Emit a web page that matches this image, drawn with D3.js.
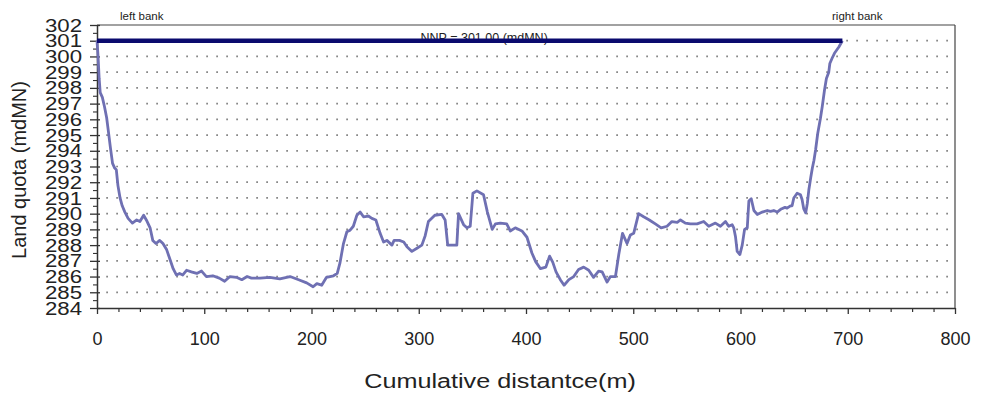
<!DOCTYPE html>
<html>
<head>
<meta charset="utf-8">
<script src="https://cdn.jsdelivr.net/npm/d3@7"></script>
<style>
  body { margin: 0; background: #fff; }
  svg { display: block; font-family: Arial, "Liberation Sans", sans-serif; }
</style>
</head>
<body>
<svg id="chart" width="981" height="395"></svg>
<script>
// ---- data ----
const distance = [0,1,2,3,5,7,9,10.5,12.5,14.5,16.5,18,19.5,21.5,23.5,26,29,33,37,40,43.5,46,49.5,52,55,58.5,61.5,65,68,71,74,77,80,83.5,88,93,97.5,102,108,114,119,124,130,135,140,144,152,161,170.5,180,188,195.5,201.5,205,209.5,214,220.5,224,226.5,229.8,233,236,239,242.3,245.4,248.5,253,256.3,260,264,267.2,270.3,275,277,282,286,289,293.6,298.3,302.9,306,309,315,321.5,324.6,327,335.5,337.1,341.8,344.9,348,350.5,354.2,360.4,364,368.5,371.5,376,382,385.3,390,396.2,400.9,405.5,409,413.5,418.5,422,425,428,432,435.5,440,444.5,449,453.8,458.5,463,467.7,471,475.6,478.7,483.4,486.5,490,494.2,497.3,500.4,505,509.7,515,520.6,526,531.5,536,541,544,548.6,553.3,559.5,565.7,570.4,576.6,581.3,586,589,592.2,593.7,595.3,596.9,599.4,601.6,603.8,606.3,607.8,610,612.5,615.6,620.3,625,628,631,634.2,638,641.5,643.4,646.6,648.1,649.7,652.8,655.9,657.4,659,660.8,662.3,663.7,665.5,667,668.5,670,672,674.5,676.2,678.3,680.1,682.3,683.3,685.5,687.6,691.7,695];
const quota = [301.0,300.0,298.6,297.7,297.4,296.8,296.1,295.3,294.2,293.2,292.9,292.8,291.8,291.0,290.5,290.1,289.7,289.4,289.6,289.5,289.9,289.6,289.1,288.3,288.1,288.3,288.1,287.7,287.1,286.5,286.1,286.2,286.1,286.4,286.3,286.2,286.35,286.0,286.05,285.9,285.7,286.0,285.95,285.8,286.0,285.9,285.9,285.95,285.85,286.0,285.8,285.6,285.35,285.55,285.45,285.95,286.05,286.2,286.85,288.1,288.85,288.95,289.2,289.9,290.1,289.8,289.85,289.7,289.6,288.75,288.2,288.3,288.0,288.3,288.3,288.2,287.9,287.6,287.8,288.0,288.6,289.5,289.9,289.95,289.6,288.0,288.0,290.0,289.3,289.1,289.2,291.3,291.45,291.2,290.1,289.0,289.35,289.4,289.35,288.9,289.1,288.9,288.5,287.5,286.95,286.5,286.6,287.3,286.9,286.3,285.8,285.45,285.8,286.0,286.45,286.6,286.4,285.95,286.35,286.3,285.65,286.0,286.0,287.4,288.75,288.1,288.65,288.75,290.0,289.8,289.6,289.35,289.1,289.2,289.5,289.45,289.6,289.4,289.35,289.35,289.5,289.2,289.4,289.2,289.5,289.2,289.3,289.1,288.55,287.6,287.4,288.0,289.0,289.1,290.8,290.95,290.2,289.95,290.1,290.2,290.15,290.2,290.1,290.3,290.4,290.35,290.5,290.5,291.0,291.3,291.2,290.9,290.3,290.05,290.65,291.5,292.3,292.9,293.4,294.05,295.1,296.05,296.8,297.85,298.6,299.0,299.55,299.9,300.2,300.6,301.0];
const nnpLevel = 301.0;
const nnpStart = 0, nnpEnd = 695;
const xTicks = [0,100,200,300,400,500,600,700,800];
const xMinorTicks = [20,40,60,80,120,140,160,180,220,240,260,280,320,340,360,380,420,440,460,480,520,540,560,580,620,640,660,680,720,740,760,780];
const yTicks = [284,285,286,287,288,289,290,291,292,293,294,295,296,297,298,299,300,301,302];
const yMinorTicks = [284.5,285.5,286.5,287.5,288.5,289.5,290.5,291.5,292.5,293.5,294.5,295.5,296.5,297.5,298.5,299.5,300.5,301.5];
const gridLevels = [285,286,287,288,289,290,291,292,293,294,295,296,297,298,299,300,301];
const xTitle = "Cumulative distantce(m)";
const yTitle = "Land quota  (mdMN)";
const nnpLabel = "NNP = 301.00 (mdMN)";
const leftLabel = "left bank", rightLabel = "right bank";

// ---- layout ----
const margin = {top: 25, right: 26, bottom: 87, left: 97};
const W = 981, H = 395;
const w = W - margin.left - margin.right, h = H - margin.top - margin.bottom;
const svg = d3.select("#chart");
const g = svg.append("g").attr("transform", `translate(${margin.left},${margin.top})`);

const x = d3.scaleLinear().domain([0, 800]).range([0, w]);
const y = d3.scaleLinear().domain([284, 302]).range([h, 0]);

// dotted grid
g.append("g").selectAll("line").data(gridLevels).join("line")
  .attr("x1", 9.3).attr("x2", w).attr("y1", d => y(d)).attr("y2", d => y(d))
  .attr("stroke", "#7a7a7a").attr("stroke-width", 1.7)
  .attr("stroke-dasharray", "1.6 8.4");

// frame top & right
g.append("line").attr("x1", 0).attr("x2", w).attr("y1", 0).attr("y2", 0)
  .attr("stroke", "#444").attr("stroke-width", 1.2);
g.append("line").attr("x1", w).attr("x2", w).attr("y1", 0).attr("y2", h)
  .attr("stroke", "#444").attr("stroke-width", 1.2);

// x axis
const xAxis = g.append("g").attr("transform", `translate(0,${h})`)
  .call(d3.axisBottom(x).tickValues(xTicks).tickSize(6).tickSizeOuter(0).tickFormat(d3.format("d")));
xAxis.select(".domain").attr("stroke", "#333").attr("stroke-width", 1.5);
xAxis.selectAll(".tick line").attr("stroke", "#333").attr("stroke-width", 1.3);
xAxis.selectAll("text").attr("y", 24).attr("font-size", 18).attr("fill", "#222");
g.append("g").attr("transform", `translate(0,${h})`)
  .call(d3.axisBottom(x).tickValues(xMinorTicks).tickSize(4).tickSizeOuter(0).tickFormat(""))
  .call(a => a.select(".domain").remove())
  .selectAll(".tick line").attr("stroke", "#333").attr("stroke-width", 1.2);

// y axis
const yAxis = g.append("g")
  .call(d3.axisLeft(y).tickValues(yTicks).tickSize(7).tickSizeOuter(0).tickFormat(d3.format("d")));
yAxis.select(".domain").attr("stroke", "#333").attr("stroke-width", 1.5);
yAxis.selectAll(".tick line").attr("stroke", "#333").attr("stroke-width", 1.3).attr("x2", -7).attr("x1", 3);
yAxis.selectAll("text").attr("x", 0).attr("font-size", 19).attr("fill", "#222")
  .attr("transform", "translate(-15,0) scale(1.17,1)");
g.append("g")
  .call(d3.axisLeft(y).tickValues(yMinorTicks).tickSize(4).tickSizeOuter(0).tickFormat(""))
  .call(a => a.select(".domain").remove())
  .selectAll(".tick line").attr("stroke", "#333").attr("stroke-width", 1.1);

// NNP label (behind line)
g.append("text").attr("x", x(361)).attr("y", y(nnpLevel) + 1).attr("text-anchor", "middle")
  .attr("font-size", 12.5).attr("fill", "#222").text(nnpLabel);

// profile line
const pts = distance.map((d, i) => [d, quota[i]]);
g.append("path").datum(pts)
  .attr("fill", "none").attr("stroke", "#6f70b3").attr("stroke-width", 2.8)
  .attr("stroke-linejoin", "round")
  .attr("d", d3.line().x(d => x(d[0])).y(d => y(d[1])));

// NNP line
g.append("line").attr("x1", x(nnpStart)).attr("x2", x(nnpEnd))
  .attr("y1", y(nnpLevel)).attr("y2", y(nnpLevel))
  .attr("stroke", "#0a0a6e").attr("stroke-width", 4.5);

// bank labels
svg.append("text").attr("x", 120).attr("y", 19.5).attr("font-size", 11.5).attr("fill", "#222").text(leftLabel);
svg.append("text").attr("x", 832).attr("y", 19.5).attr("font-size", 11.5).attr("fill", "#222").text(rightLabel);

// axis titles
svg.append("text").attr("x", 500).attr("y", 388).attr("text-anchor", "middle")
  .attr("font-size", 21).attr("fill", "#222")
  .attr("transform", "translate(500,0) scale(1.2,1) translate(-500,0)")
  .text(xTitle);
svg.append("text").attr("transform", "translate(26,170) rotate(-90)")
  .attr("text-anchor", "middle").attr("font-size", 20).attr("fill", "#222")
  .text(yTitle);
</script>
</body>
</html>
